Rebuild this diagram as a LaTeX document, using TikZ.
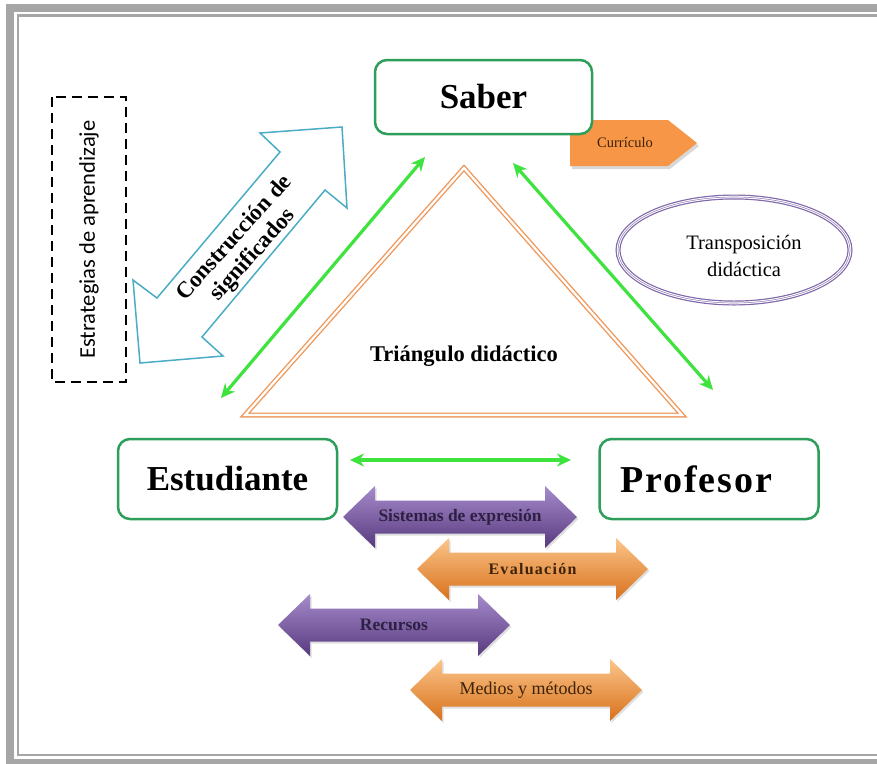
\documentclass[tikz,border=0pt]{standalone}
\usepackage{fontspec}
\setmainfont{Liberation Serif}
\newfontfamily\calib{Carlito}
\usetikzlibrary{shapes.geometric,arrows.meta,shadows,calc}
\definecolor{boxgreen}{HTML}{2E9E5B}
\definecolor{argreen}{HTML}{3EE33E}
\definecolor{aqua}{HTML}{4BACC6}
\definecolor{triorange}{HTML}{EE9A5E}
\definecolor{ellpurple}{HTML}{7E66A8}
\definecolor{curorange}{HTML}{F79646}
\definecolor{framegray}{HTML}{A6A6A6}
\definecolor{putop}{HTML}{A68BCB}
\definecolor{pumid}{HTML}{7F5FA8}
\definecolor{pubot}{HTML}{573A7E}
\definecolor{ortop}{HTML}{FCC58A}
\definecolor{ormid}{HTML}{F79646}
\definecolor{orbot}{HTML}{D7711C}
\definecolor{putext}{HTML}{2E2044}
\definecolor{ortext}{HTML}{3E2208}
\newcommand\fatarrow[6]{%
  \path[drop shadow={opacity=0.25,shadow xshift=1.5pt,shadow yshift=-2pt},
        top color=#5top, middle color=#5mid, bottom color=#5bot]
    (#2,#4) -- ({#2+32},{#4-31}) -- ({#2+32},{#4-16.5}) -- ({#3-32},{#4-16.5})
    -- ({#3-32},{#4-31}) -- (#3,#4) -- ({#3-32},{#4+31}) -- ({#3-32},{#4+16.5})
    -- ({#2+32},{#4+16.5}) -- ({#2+32},{#4+31}) -- cycle;
  \node[arrowtext] (#1) at ({(#2+#3)/2},#4) {#6};}
\begin{document}
\begin{tikzpicture}[x=1pt,y=-1pt,
  mainbox/.style={draw=boxgreen, line width=2.5pt, rounded corners=12pt, fill=white,
    minimum width=219pt, minimum height=80pt, font=\fontsize{35}{40}\selectfont\bfseries},
  garrow/.style={argreen, line width=3.2pt,
    {Stealth[length=14pt,width=13pt]}-{Stealth[length=14pt,width=13pt]}},
  arrowtext/.style={inner sep=0pt}]
\useasboundingbox (0,0) rectangle (877,763);
\fill[white] (0,0) rectangle (877,763);
% frame
\begin{scope}
\clip (0,0) rectangle (877,763);
\draw[framegray, line width=8pt] (895,8) -- (10,8) -- (10,763) -- (895,763);
\draw[framegray, line width=2.5pt] (895,15.5) -- (18,15.5) -- (18,755) -- (895,755);
\end{scope}
% curriculo
\path[fill=curorange, drop shadow={opacity=0.3,shadow xshift=2pt,shadow yshift=-3pt}]
  (570,120) -- (668,120) -- (697,143) -- (668,166) -- (570,166) -- cycle;
\node[font=\fontsize{14.5}{16}\selectfont, text=ortext] (cur) at (625,143) {Currículo};
% saber
\node[mainbox, minimum width=217pt, minimum height=74pt] (saber) at (483.5,97) {Saber};
% triangle
\draw[triorange, line width=1.4pt, double=white, double distance=2.2pt, line join=miter]
  (464,168) -- (682,415) -- (245,415) -- cycle;
\node[font=\fontsize{22.5}{26}\selectfont\bfseries] (tri) at (464,356) {Triángulo didáctico};
% ellipse
\node[ellipse, draw=ellpurple, line width=1.2pt, double=white, double distance=2.6pt,
  minimum width=232pt, minimum height=106pt] (trans) at (734,250) {};
\draw[ellpurple!80, line width=0.6pt] (trans.center) ellipse [x radius=116pt, y radius=53pt];
\node[align=center, font=\fontsize{20.5}{27}\selectfont] (transtxt) at (744,256)
  {Transposición\\didáctica};
% dashed box
\node[draw, line width=2.5pt, dash pattern=on 10pt off 6pt, rotate=90,
  minimum width=285pt, minimum height=74pt,
  font=\calib\fontsize{22.5}{24}\selectfont] (estr) at (89,239.5) {Estrategias de aprendizaje};
% blue double arrow
\draw[aqua, line width=1.5pt, fill=white, line join=miter]
  (342,127) -- (347,208) -- (325,190) -- (202,337) -- (223,356) -- (140,363)
  -- (133,280) -- (157,298) -- (280,152) -- (260,133) -- cycle;
\node[rotate=48, align=center, font=\bfseries\fontsize{23}{25}\selectfont] (cons)
  at (244,247) {Construcción de\\significados};
% boxes
\node[mainbox] (est) at (227.5,479) {Estudiante};
\node[mainbox, font=\fontsize{38}{40}\selectfont\bfseries\addfontfeature{LetterSpace=5}]
  (prof) at (709,479) {\hspace*{-26pt}Profesor};
% green arrows
\coordinate (l1) at (221,398); \coordinate (l2) at (425,157);
\coordinate (r1) at (513,163); \coordinate (r2) at (713,390);
\coordinate (h1) at (350,460); \coordinate (h2) at (571,460);
\draw[garrow] (l1) -- (l2);
\draw[garrow] (r1) -- (r2);
\draw[garrow] (h1) -- (h2);
% fat arrows
\fatarrow{sis}{343}{577}{517}{pu}{\textcolor{putext}{\bfseries\fontsize{17.5}{20}\selectfont Sistemas de expresión}}
\fatarrow{eva}{417}{648}{569}{or}{\textcolor{ortext}{\bfseries\fontsize{16}{18}\selectfont\addfontfeature{LetterSpace=8}Evaluación}}
\fatarrow{rec}{278}{510}{625}{pu}{\textcolor{putext}{\bfseries\fontsize{17.5}{20}\selectfont Recursos}}
\fatarrow{med}{410}{642}{690}{or}{\textcolor{ortext}{\fontsize{18}{20}\selectfont Medios y métodos}}
\end{tikzpicture}
\end{document}
